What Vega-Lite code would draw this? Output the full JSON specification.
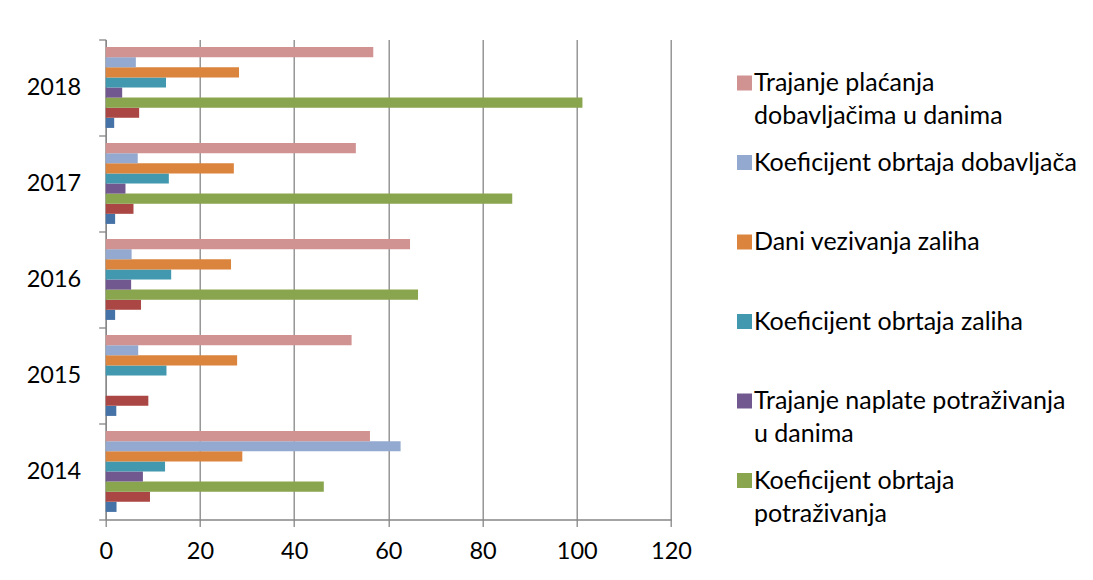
{
  "$schema": "https://vega.github.io/schema/vega-lite/v6.json",
  "width": 565.3,
  "height": 480,
  "autosize": {"type": "none"},
  "padding": {"left": 105.7, "top": 39.5, "right": 422, "bottom": 60.5},
  "background": "white",
  "config": {
    "font": "Lato",
    "view": {"stroke": null},
    "style": {"guide-label": {"lineHeight": 33}}
  },
  "data": {
    "values": [
      {"year": "2014", "series": "Koeficijent tekuće likvidnosti", "value": 2.3},
      {"year": "2014", "series": "Koeficijent ubrzane likvidnosti", "value": 9.4},
      {"year": "2014", "series": "Koeficijent obrtaja potraživanja", "value": 46.3},
      {"year": "2014", "series": "Trajanje naplate potraživanja u danima", "value": 7.9},
      {"year": "2014", "series": "Koeficijent obrtaja zaliha", "value": 12.6},
      {"year": "2014", "series": "Dani vezivanja zaliha", "value": 29.0},
      {"year": "2014", "series": "Koeficijent obrtaja dobavljača", "value": 62.6},
      {"year": "2014", "series": "Trajanje plaćanja dobavljačima u danima", "value": 56.1},
      {"year": "2015", "series": "Koeficijent tekuće likvidnosti", "value": 2.25},
      {"year": "2015", "series": "Koeficijent ubrzane likvidnosti", "value": 9.05},
      {"year": "2015", "series": "Koeficijent obrtaja potraživanja", "value": 0},
      {"year": "2015", "series": "Trajanje naplate potraživanja u danima", "value": 0},
      {"year": "2015", "series": "Koeficijent obrtaja zaliha", "value": 12.9},
      {"year": "2015", "series": "Dani vezivanja zaliha", "value": 27.9},
      {"year": "2015", "series": "Koeficijent obrtaja dobavljača", "value": 6.9},
      {"year": "2015", "series": "Trajanje plaćanja dobavljačima u danima", "value": 52.2},
      {"year": "2016", "series": "Koeficijent tekuće likvidnosti", "value": 2.0},
      {"year": "2016", "series": "Koeficijent ubrzane likvidnosti", "value": 7.5},
      {"year": "2016", "series": "Koeficijent obrtaja potraživanja", "value": 66.3},
      {"year": "2016", "series": "Trajanje naplate potraživanja u danima", "value": 5.4},
      {"year": "2016", "series": "Koeficijent obrtaja zaliha", "value": 13.9},
      {"year": "2016", "series": "Dani vezivanja zaliha", "value": 26.6},
      {"year": "2016", "series": "Koeficijent obrtaja dobavljača", "value": 5.5},
      {"year": "2016", "series": "Trajanje plaćanja dobavljačima u danima", "value": 64.6},
      {"year": "2017", "series": "Koeficijent tekuće likvidnosti", "value": 2.0},
      {"year": "2017", "series": "Koeficijent ubrzane likvidnosti", "value": 5.9},
      {"year": "2017", "series": "Koeficijent obrtaja potraživanja", "value": 86.3},
      {"year": "2017", "series": "Trajanje naplate potraživanja u danima", "value": 4.2},
      {"year": "2017", "series": "Koeficijent obrtaja zaliha", "value": 13.4},
      {"year": "2017", "series": "Dani vezivanja zaliha", "value": 27.2},
      {"year": "2017", "series": "Koeficijent obrtaja dobavljača", "value": 6.8},
      {"year": "2017", "series": "Trajanje plaćanja dobavljačima u danima", "value": 53.1},
      {"year": "2018", "series": "Koeficijent tekuće likvidnosti", "value": 1.8},
      {"year": "2018", "series": "Koeficijent ubrzane likvidnosti", "value": 7.1},
      {"year": "2018", "series": "Koeficijent obrtaja potraživanja", "value": 101.2},
      {"year": "2018", "series": "Trajanje naplate potraživanja u danima", "value": 3.5},
      {"year": "2018", "series": "Koeficijent obrtaja zaliha", "value": 12.8},
      {"year": "2018", "series": "Dani vezivanja zaliha", "value": 28.3},
      {"year": "2018", "series": "Koeficijent obrtaja dobavljača", "value": 6.4},
      {"year": "2018", "series": "Trajanje plaćanja dobavljačima u danima", "value": 56.8}
    ]
  },
  "mark": {"type": "bar"},
  "encoding": {
    "y": {
      "field": "year",
      "type": "nominal",
      "sort": "descending",
      "title": null,
      "scale": {"paddingInner": 0, "paddingOuter": 0},
      "axis": {
        "tickBand": "extent",
        "domainColor": "#868686",
        "domainWidth": 1.3,
        "tickColor": "#868686",
        "tickWidth": 1.3,
        "tickSize": 7,
        "labelFontSize": 23.5,
        "labelColor": "#000000",
        "labelPadding": 18,
        "labelAngle": 0,
        "grid": false
      }
    },
    "yOffset": {
      "field": "series",
      "type": "nominal",
      "sort": [
        "Trajanje plaćanja dobavljačima u danima",
        "Koeficijent obrtaja dobavljača",
        "Dani vezivanja zaliha",
        "Koeficijent obrtaja zaliha",
        "Trajanje naplate potraživanja u danima",
        "Koeficijent obrtaja potraživanja",
        "Koeficijent ubrzane likvidnosti",
        "Koeficijent tekuće likvidnosti"
      ],
      "scale": {"paddingInner": 0, "paddingOuter": 0.75}
    },
    "x": {
      "field": "value",
      "type": "quantitative",
      "title": null,
      "scale": {"domain": [0, 120], "nice": false},
      "axis": {
        "values": [0, 20, 40, 60, 80, 100, 120],
        "grid": true,
        "gridColor": "#868686",
        "gridWidth": 1.3,
        "domainColor": "#868686",
        "domainWidth": 1.3,
        "tickColor": "#868686",
        "tickWidth": 1.3,
        "tickSize": 7,
        "labelFontSize": 23.5,
        "labelColor": "#000000",
        "labelPadding": 13,
        "labelFlush": false
      }
    },
    "color": {
      "field": "series",
      "type": "nominal",
      "scale": {
        "domain": [
          "Koeficijent tekuće likvidnosti",
          "Koeficijent ubrzane likvidnosti",
          "Koeficijent obrtaja potraživanja",
          "Trajanje naplate potraživanja u danima",
          "Koeficijent obrtaja zaliha",
          "Dani vezivanja zaliha",
          "Koeficijent obrtaja dobavljača",
          "Trajanje plaćanja dobavljačima u danima"
        ],
        "range": ["#4572A7", "#AA4643", "#89A54E", "#71588F", "#4198AF", "#DB843D", "#93A9CF", "#D19392"]
      },
      "legend": {
        "title": null,
        "orient": "none",
        "legendX": 626.3,
        "legendY": 31,
        "values": [
          "Trajanje plaćanja dobavljačima u danima",
          "Koeficijent obrtaja dobavljača",
          "Dani vezivanja zaliha",
          "Koeficijent obrtaja zaliha",
          "Trajanje naplate potraživanja u danima",
          "Koeficijent obrtaja potraživanja"
        ],
        "symbolType": "square",
        "symbolSize": 225,
        "symbolStrokeWidth": 0,
        "symbolOpacity": 1,
        "labelFontSize": 25,
        "labelColor": "#000000",
        "labelOffset": -3,
        "labelLimit": 400,
        "labelBaseline": "middle",
        "rowPadding": 20.5,
        "padding": 0,
        "labelExpr": "datum.label == 'Trajanje plaćanja dobavljačima u danima' ? ['Trajanje plaćanja', 'dobavljačima u danima'] : datum.label == 'Trajanje naplate potraživanja u danima' ? ['Trajanje naplate potraživanja', 'u danima'] : datum.label == 'Koeficijent obrtaja potraživanja' ? ['Koeficijent obrtaja', 'potraživanja'] : [datum.label, '']"
      }
    }
  }
}
